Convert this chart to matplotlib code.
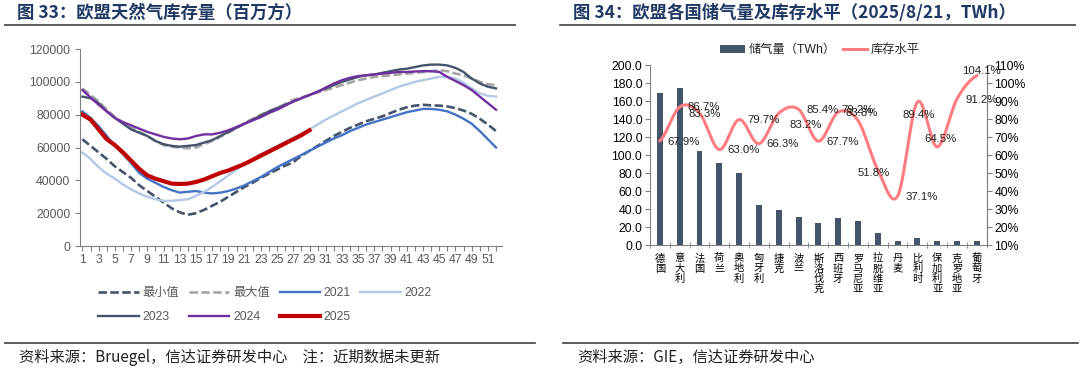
import matplotlib
matplotlib.use("Agg")
import matplotlib.pyplot as plt
from matplotlib.lines import Line2D
import numpy as np

plt.rcParams['font.family'] = ['Liberation Sans', 'Noto Sans CJK SC', 'DejaVu Sans']

# ---- left chart: EU gas storage by week (million m3)
weeks = list(range(1, 53))
min_val = [65000, 61000, 57000, 53000, 48500, 45000, 41500, 37000, 33500, 30000,
           26500, 23000, 20500, 19000, 20000, 22000, 24500, 27000, 30000, 33000,
           36000, 38500, 41500, 44000, 46500, 49000, 51000, 55000, 58000, 61000,
           64000, 67000, 69500, 72000, 74000, 76000, 77500, 79000, 81000, 83000,
           84500, 85500, 86000, 85700, 85500, 85000, 84000, 82500, 80500, 77500,
           74000, 70000]
max_val = [96000, 92000, 88000, 83000, 78500, 75000, 72000, 69500, 67000, 64000,
           61500, 60500, 60000, 59500, 60000, 62000, 64000, 66500, 69000, 72000,
           75000, 77500, 80000, 82000, 84000, 86500, 89000, 90500, 92000, 93500,
           95000, 96500, 98000, 99500, 101000, 102000, 103000, 103500, 104000, 104500,
           105000, 105500, 106000, 106500, 107000, 106500, 105000, 104000, 102000, 100000,
           98500, 98000]
y2021 = [82000, 78000, 73000, 67000, 61000, 56000, 50500, 44500, 41000, 38500,
         36000, 34000, 32500, 33000, 33500, 32500, 32000, 32500, 33500, 35000,
         37000, 39500, 42000, 45000, 48000, 50500, 53000, 55500, 58000, 60500,
         63000, 65500, 67500, 70000, 72000, 74000, 75500, 77000, 78500, 80000,
         81500, 82500, 83500, 83500, 83000, 82000, 80000, 77500, 74500, 70000,
         65000, 60000]
y2022 = [57000, 53000, 48000, 44000, 41000, 37500, 34500, 32000, 30000, 28500,
         27500, 27500, 28000, 28500, 30500, 33000, 36000, 39500, 43000, 46500,
         50000, 53000, 56000, 58500, 61000, 63500, 66000, 68500, 71000, 74000,
         77000, 79500, 82000, 84500, 87000, 89000, 91000, 93000, 95000, 97000,
         98500, 100000, 101000, 102000, 103000, 103000, 102000, 99500, 96000, 93000,
         91500, 91000]
y2023 = [91000, 90000, 87000, 82000, 78000, 74500, 71000, 69000, 67000, 64000,
         62000, 61000, 60500, 61000, 61500, 63000, 64500, 67000, 69500, 72000,
         74500, 77000, 79500, 82000, 84000, 86000, 88000, 90000, 92000, 94000,
         96000, 98000, 100000, 101500, 103000, 104000, 104500, 105500, 106500, 107500,
         108000, 109000, 110000, 110500, 110500, 110000, 108500, 106000, 102000, 99000,
         97000, 96000]
y2024 = [95000, 90500, 86000, 82000, 78000, 75500, 73500, 71500, 69500, 68000,
         66500, 65500, 65000, 65500, 67000, 68000, 68000, 69000, 70500, 72500,
         74500, 76500, 78500, 81000, 83000, 85500, 88000, 90000, 92000, 94000,
         96500, 99000, 101000, 102500, 103500, 104000, 104500, 105000, 105500, 106000,
         106000, 106300, 106500, 106500, 106000, 103000, 100500, 98000, 95000, 91000,
         87000, 83000]
y2025 = [80000, 77000, 71000, 65000, 61500, 57000, 52000, 47000, 43000, 41000,
         39500, 38000, 37800, 38000, 39000, 40500, 42500, 44500, 46000, 48000,
         50000, 52500, 55000, 57500, 60000, 62500, 65000, 67500, 70500]

# ---- right chart: storage by country (TWh) and fill level (%)
countries = ['德国', '意大利', '法国', '荷兰', '奥地利', '匈牙利', '捷克', '波兰', '斯洛伐克',
             '西班牙', '罗马尼亚', '拉脱维亚', '丹麦', '比利时', '保加利亚', '克罗地亚', '葡萄牙']
storage = [169, 175, 105, 91, 80, 45, 39, 31, 24, 30, 27, 13, 4, 8, 4, 4, 4]
level = [67.9, 86.7, 83.3, 63.0, 79.7, 66.3, 83.2, 85.4, 67.7, 83.8, 79.2, 51.8, 37.1,
         89.4, 64.5, 91.2, 104.1]
# label offsets in pixels (dx, dy), as placed in the original
lab_off = [(24, -1), (24, 0), (5, -1), (24, 0), (24, 0), (24, 0), (27, -12), (24, -1),
           (24, -1), (24, -1), (0, 10), (-4, -3), (24, -1), (1, -13), (3, 8), (25, -1), (5, 5)]


def smooth(xs, ys, n=24):
    # Catmull-Rom style smoothing, like Excel's smoothed line
    xs = np.asarray(xs, float)
    ys = np.asarray(ys, float)
    px = np.concatenate([[2 * xs[0] - xs[1]], xs, [2 * xs[-1] - xs[-2]]])
    py = np.concatenate([[ys[0]], ys, [ys[-1]]])
    out_x, out_y = [], []
    t = np.linspace(0, 1, n, endpoint=False)
    for i in range(1, len(px) - 2):
        for arr, out in ((px, out_x), (py, out_y)):
            p0, p1, p2, p3 = arr[i - 1], arr[i], arr[i + 1], arr[i + 2]
            out.extend(0.5 * ((2 * p1) + (-p0 + p2) * t + (2 * p0 - 5 * p1 + 4 * p2 - p3) * t ** 2
                              + (-p0 + 3 * p1 - 3 * p2 + p3) * t ** 3))
    out_x.append(xs[-1])
    out_y.append(ys[-1])
    return np.array(out_x), np.array(out_y)


fig = plt.figure(figsize=(10.8, 3.79), dpi=100)

title_col = '#1F3864'
fig.text(17 / 1080, 1 - 13 / 379, '图 33：欧盟天然气库存量（百万方）', fontsize=12.5,
         fontweight='bold', color=title_col, family=['Noto Sans CJK SC'], va='center')
fig.text(573 / 1080, 1 - 13 / 379, '图 34：欧盟各国储气量及库存水平（2025/8/21，TWh）', fontsize=12.5,
         fontweight='bold', color=title_col, family=['Noto Sans CJK SC'], va='center')
for x0, x1, yy in [(5, 515, 25), (560, 1075, 25), (5, 535, 343), (563, 1078, 343)]:
    fig.add_artist(Line2D([x0 / 1080, x1 / 1080], [1 - yy / 379, 1 - yy / 379],
                          color='#404040', lw=1.2))
fig.text(19 / 1080, 1 - 357 / 379, '资料来源：Bruegel，信达证券研发中心　注：近期数据未更新',
         fontsize=11, color='#222222', family=['Noto Sans CJK SC'], va='center')
fig.text(577 / 1080, 1 - 357 / 379, '资料来源：GIE，信达证券研发中心',
         fontsize=11, color='#222222', family=['Noto Sans CJK SC'], va='center')

# ---- left axes
ax1 = fig.add_axes([80 / 1080, 1 - 246 / 379, 421.7 / 1080, 197 / 379])
dash = (3.2, 1.3)
ax1.plot(weeks, min_val, color='#44546A', lw=1.9, ls=(0, dash), label='最小值')
ax1.plot(weeks, max_val, color='#A5A5A5', lw=1.9, ls=(0, dash), label='最大值')
ax1.plot(weeks, y2021, color='#4472C4', lw=1.7, label='2021')
ax1.plot(weeks, y2022, color='#B4C7E7', lw=1.7, label='2022')
ax1.plot(weeks, y2023, color='#44546A', lw=1.7, label='2023')
ax1.plot(weeks, y2024, color='#7030A0', lw=1.7, label='2024')
ax1.plot(weeks[:len(y2025)], y2025, color='#C00000', lw=3.0, label='2025')
ax1.set_xlim(0.7, 52.7)
ax1.set_ylim(0, 120000)
ax1.set_yticks(range(0, 120001, 20000))
ax1.set_xticks(weeks)
ax1.set_xticklabels([str(w) if w % 2 == 1 else '' for w in weeks])
for s in ['top', 'right']:
    ax1.spines[s].set_visible(False)
for s in ['left', 'bottom']:
    ax1.spines[s].set_color('#808080')
ax1.tick_params(axis='both', colors='#808080', labelcolor='#595959', labelsize=8.8,
                length=3.5, width=0.8)
ax1.tick_params(axis='x', pad=2)

handles, labels = ax1.get_legend_handles_labels()
order = [0, 4, 1, 5, 2, 6, 3]  # legend fills by column; this gives the row order
leg1 = fig.legend([handles[i] for i in order], [labels[i] for i in order], loc='center',
                  bbox_to_anchor=(265 / 1080, 1 - 305 / 379),
                  ncol=4, frameon=False, fontsize=8.8, handlelength=3.3, handletextpad=0.3,
                  columnspacing=0.8, labelspacing=0.95)
for t in leg1.get_texts():
    t.set_color('#595959')

# ---- right axes
ax2 = fig.add_axes([650 / 1080, 1 - 245 / 379, 336.7 / 1080, 180 / 379])
xi = np.arange(len(countries))
ax2.bar(xi, storage, width=0.3, color='#44546A', label='储气量（TWh）', zorder=2)
ax2.set_xlim(-0.5, len(countries) - 0.5)
ax2.set_ylim(0, 200)
ax2.set_yticks(range(0, 201, 20))
ax2.set_yticklabels([f'{v:.1f}' for v in range(0, 201, 20)])
ax2.set_xticks(xi)
ax2.set_xticklabels(['\n'.join(c) for c in countries], family=['Noto Sans CJK SC'],
                    fontsize=7.4, linespacing=1.02, va='top')
ax2.set_xticks(np.arange(-0.5, len(countries), 1), minor=True)
ax2.tick_params(axis='x', which='major', length=0, pad=6)
ax2.tick_params(axis='x', which='minor', direction='inout', length=5, color='#808080')
ax2.tick_params(axis='y', labelsize=8.8, length=3.5, color='#808080', pad=2)
ax2.spines['top'].set_visible(False)
for s in ['left', 'bottom', 'right']:
    ax2.spines[s].set_color('#808080')

ax3 = ax2.twinx()
sx, sy = smooth(xi, level)
ax3.plot(sx, sy, color='#FF7C80', lw=2.2, label='库存水平', zorder=3)
ax3.set_ylim(10, 110)
ax3.set_yticks(range(10, 111, 10))
ax3.set_yticklabels([f'{v}%' for v in range(10, 111, 10)])
ax3.tick_params(axis='y', labelsize=8.8, length=3.5, color='#808080', pad=2)
for s in ['top', 'left', 'bottom']:
    ax3.spines[s].set_visible(False)
ax3.spines['right'].set_color('#808080')
for i, v in enumerate(level):
    dx, dy = lab_off[i]
    ax3.annotate(f'{v:.1f}%', (xi[i], v), xytext=(dx, dy), textcoords='offset pixels',
                 ha='center', va='center', fontsize=8.2, color='#222222', zorder=4)

h1, l1 = ax2.get_legend_handles_labels()
h2, l2 = ax3.get_legend_handles_labels()
leg2 = fig.legend(h1 + h2, l1 + l2, loc='center', bbox_to_anchor=(820 / 1080, 1 - 50 / 379),
                  ncol=2, frameon=False, handlelength=2.0, handleheight=0.6,
                  handletextpad=0.3, columnspacing=0.6,
                  prop={'family': ['Liberation Sans', 'Noto Sans CJK SC'], 'size': 8.8})
for t in leg2.get_texts():
    t.set_color('#222222')

fig.savefig('out.png', dpi=100)
